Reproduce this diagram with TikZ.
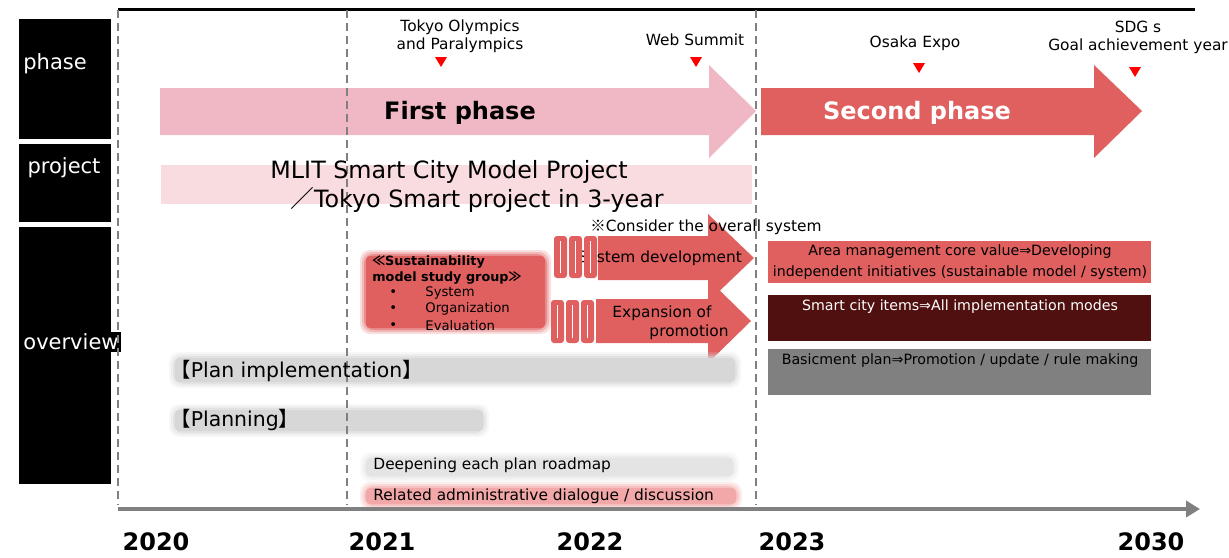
\documentclass[tikz,border=0pt]{standalone}
\usepackage{fontspec}
\setmainfont{DejaVu Sans}
\newfontfamily\cjk{Noto Sans CJK JP}
\definecolor{phasepink}{RGB}{240,184,196}
\definecolor{phasered}{RGB}{224,96,96}
\definecolor{projpink}{RGB}{248,220,224}
\definecolor{itemmaroon}{RGB}{80,16,16}
\definecolor{itemgray}{RGB}{128,128,128}
\definecolor{bargray}{RGB}{215,215,215}
\definecolor{barlight}{RGB}{228,228,228}
\definecolor{barpink}{RGB}{242,168,168}
\definecolor{axisgray}{RGB}{128,128,128}
\usetikzlibrary{arrows.meta}

% soft (blurred) bar: colour, x1, y1, x2, y2
\newcommand{\softbar}[5]{%
  \foreach \d/\o in {6/0.2,4/0.3,2/0.5}
    \fill[#1, opacity=\o, rounded corners=5pt] (#2-\d,#3-\d) rectangle (#4+\d,#5+\d);
  \fill[#1, rounded corners=2pt] (#2,#3) rectangle (#4,#5);
}

\begin{document}
\begin{tikzpicture}[x=0.5pt, y=-0.5pt,
    lbl/.style={fill=black, text=white, inner sep=1pt, font=\fontsize{10.5}{12}\selectfont},
    yearlbl/.style={font=\fontsize{12}{14}\selectfont\bfseries},
    mile/.style={align=center, inner sep=0, font=\fontsize{7.7}{9}\selectfont},
    phasetxt/.style={inner sep=0, font=\fontsize{12}{14}\selectfont\bfseries},
    projtxt/.style={inner sep=0, font=\fontsize{11.9}{14}\selectfont},
    ovtxt/.style={inner sep=0, font=\fontsize{7.7}{9.5}\selectfont},
    sgtxt/.style={anchor=west, inner sep=0, font=\fontsize{6.6}{8}\selectfont},
    boxtxt/.style={align=center, inner sep=0, font=\fontsize{7.1}{10.5}\selectfont},
    bartxt/.style={anchor=west, inner sep=0, font=\fontsize{10.2}{12}\selectfont},
    smalltxt/.style={anchor=west, inner sep=0, font=\fontsize{7.7}{9}\selectfont}]
    \useasboundingbox (0,0) rectangle (1229,557);

    % Row labels
    \fill (19,19) rectangle (111,139);
    \node[lbl, anchor=west] (phaselbl) at (21,64) {phase};
    \fill (19,144) rectangle (111,222);
    \node[lbl] (projlbl) at (64,168) {project};
    \fill (19,227) rectangle (111,484);
    \node[lbl, anchor=west] (overlbl) at (21,342) {overview};

    % Phases
    \fill[phasepink] (160,88) -- (709,88) -- (709,65) -- (756,111) -- (709,158) -- (709,135) -- (160,135) -- cycle;
    \fill[phasered] (761,88) -- (1094,88) -- (1094,65) -- (1142,111) -- (1094,158) -- (1094,135) -- (761,135) -- cycle;

    % Project
    \fill[projpink] (161,165) rectangle (752,204);

    % Overview
    \softbar{phasered}{366}{256}{545}{328}
    \fill[phasered] (598,236) -- (708,236) -- (708,214) -- (754,258) -- (708,302) -- (708,280) -- (598,280) -- cycle;
    \fill[phasered] (596,299) -- (708,299) -- (708,279) -- (751,321) -- (708,363) -- (708,343) -- (596,343) -- cycle;
    \node[ovtxt] (sysdev) at (660,258) {System development};
    \foreach \x in {554,569,584} {
        \fill[phasered, rounded corners=1.5pt] (\x,236) rectangle (\x+13,278);
        \draw[white, line width=0.6pt] (\x+6.5,241) -- (\x+6.5,273);
    }
    \foreach \x in {551,566,581} {
        \fill[phasered, rounded corners=1.5pt] (\x,300) rectangle (\x+13,343);
        \draw[white, line width=0.6pt] (\x+6.5,305) -- (\x+6.5,338);
    }
    \fill[phasered] (768,241) rectangle (1151,283);
    \fill[itemmaroon] (768,295) rectangle (1151,341);
    \fill[itemgray] (768,349) rectangle (1151,395);
    \softbar{bargray}{175}{358}{735}{382}
    \softbar{bargray}{175}{410}{483}{431}
    \softbar{barlight}{366}{458}{733}{476}
    \softbar{barpink}{366}{488}{736}{504}

    % Timeline
    \draw[line width=1.5pt] (118,9) -- (1195,9);
    \foreach \x in {118,347,756}
        \draw[axisgray, line width=1pt, dash pattern=on 4pt off 2.5pt] (\x,10) -- (\x,505);
    \draw[axisgray, line width=2pt, -{Triangle[length=7pt,width=8pt]}] (118,509) -- (1200,509);
    \foreach \yr/\x in {2020/156,2021/382,2022/590,2023/792,2030/1151}
        \node[yearlbl] (y\yr) at (\x,542) {\yr};

    % Milestones
    \node[mile] (tokyo) at (460,36) {Tokyo Olympics\\and Paralympics};
    \node[mile] (websum) at (695,40) {Web Summit};
    \node[mile] (osaka) at (915,43) {Osaka Expo};
    \node[mile] (sdgs) at (1138,37) {SDG s\\Goal achievement year};
    \foreach \x/\y in {441/57,696/57,919/63,1135/67}
        \fill[red] (\x-6,\y) -- (\x+6,\y) -- (\x,\y+10) -- cycle;

    % Phase texts
    \node[phasetxt] (first) at (460,113) {First phase};
    \node[phasetxt, text=white] (second) at (917,113) {Second phase};

    % Project texts
    \node[projtxt] (mlit) at (449,172) {MLIT Smart City Model Project};
    \node[projtxt] (tokyosp) at (477,200) {{\cjk ／}Tokyo Smart project in 3-year};

    % Overview texts
    \node[ovtxt] (consider) at (706,227) {{\cjk ※}Consider the overall system};
    \node[sgtxt, font=\fontsize{6.4}{8}\selectfont\bfseries] (sg1) at (372,262) {{\cjk ≪}Sustainability};
    \node[sgtxt, font=\fontsize{6.4}{8}\selectfont\bfseries] (sg2) at (372,278) {model study group{\cjk ≫}};
    \foreach \t/\y in {System/293,Organization/309,Evaluation/326} {
        \node[sgtxt] (bul-\t) at (389,\y) {•};
        \node[sgtxt] (sg-\t) at (425,\y) {\t};
    }
    \node[ovtxt] (expand1) at (662,313) {Expansion of};
    \node[ovtxt, anchor=east] (expand2) at (729,332) {promotion};
    \node[boxtxt] (area) at (960,262) {Area management core value⇒Developing\\independent initiatives (sustainable model / system)};
    \node[boxtxt, text=white] (items) at (960,307) {Smart city items⇒All implementation modes};
    \node[boxtxt] (basic) at (960,361) {Basicment plan⇒Promotion / update / rule making};
    \node[bartxt] (planimpl) at (170,371) {{\cjk 【}Plan implementation{\cjk 】}};
    \node[bartxt] (planning) at (170,420) {{\cjk 【}Planning{\cjk 】}};
    \node[smalltxt] (deepen) at (373,465) {Deepening each plan roadmap};
    \node[smalltxt] (related) at (373,496) {Related administrative dialogue / discussion};
\end{tikzpicture}
\end{document}
